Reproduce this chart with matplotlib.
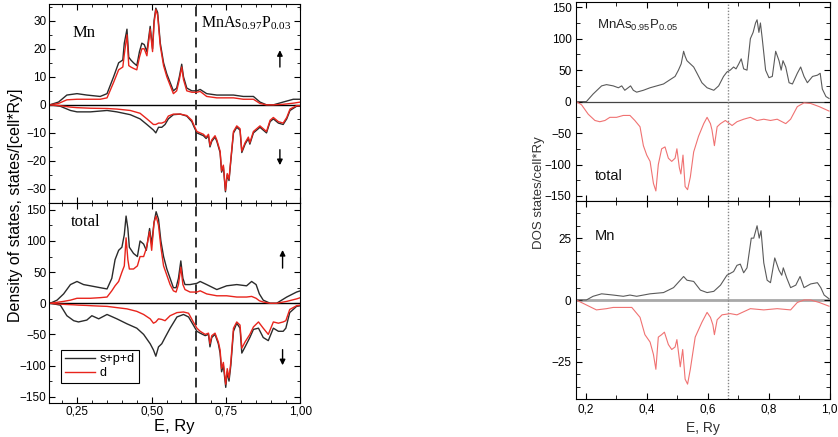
import numpy as np
import matplotlib
matplotlib.use('Agg')
import matplotlib.pyplot as plt
from matplotlib.ticker import MultipleLocator

plt.rcParams['font.family'] = ['Liberation Sans', 'DejaVu Sans']

# ---------------- left panel: MnAs0.97P0.03 ----------------
# Mn, spin up
mn_up_e = [0.157, 0.187, 0.215, 0.249, 0.282, 0.327, 0.35, 0.372, 0.389, 0.403, 0.408, 0.417, 0.423, 0.43,
           0.439, 0.45, 0.459, 0.467, 0.475, 0.484, 0.495, 0.503, 0.508, 0.514, 0.52, 0.529, 0.54, 0.551,
           0.562, 0.573, 0.584, 0.593, 0.601, 0.607, 0.618, 0.635, 0.652, 0.663, 0.685, 0.719, 0.752, 0.775,
           0.808, 0.842, 0.864, 0.886, 0.909, 0.942, 0.976, 1.0]
mn_up_spd = [0, 1, 3.5, 4, 3.5, 3, 4, 10, 15, 16, 22, 27, 17, 16,
             15, 14, 19, 22, 21.5, 19, 28, 20, 30, 34.5, 33, 22, 15, 11,
             8, 5, 6, 10, 14.5, 10, 6, 5, 5, 5.5, 4, 3.5, 3.5, 3.5,
             3, 3, 1, 0, 0, 1, 2, 2]
mn_up_d = [0, 0.5, 1.8, 2, 2, 2, 2.5, 8, 12.5, 13.5, 18, 25, 14, 13.5,
           13, 12.5, 17, 20, 20, 17.5, 27, 19, 29, 34, 32, 21, 14, 10,
           7, 4, 5, 9, 13.5, 9, 5, 4.5, 4.5, 4.8, 3, 2.5, 2.5, 2.5,
           2, 2, 0.5, 0, 0, 0.2, 0.6, 1]

# Mn, spin down
mn_dn_e = [0.159, 0.193, 0.227, 0.249, 0.294, 0.35, 0.383, 0.428, 0.461, 0.484, 0.506, 0.514, 0.523, 0.534,
           0.545, 0.556, 0.573, 0.596, 0.618, 0.635, 0.643, 0.652, 0.663, 0.674, 0.683, 0.691, 0.696, 0.702,
           0.713, 0.719, 0.73, 0.735, 0.741, 0.748, 0.754, 0.76, 0.766, 0.775, 0.786, 0.797, 0.803, 0.814,
           0.825, 0.83, 0.842, 0.853, 0.864, 0.875, 0.886, 0.898, 0.909, 0.926, 0.942, 0.954, 0.965, 0.987, 1.0]
mn_dn_spd = [0, -0.5, -2, -2.5, -2.5, -2, -2.5, -3.5, -5, -7, -9, -10, -8, -8,
             -7, -5, -3.5, -3.3, -4, -6, -8, -10, -10.5, -11, -12, -11, -15, -13,
             -11.5, -13, -17, -24, -22, -31, -25, -27, -20, -10, -8, -9, -17, -14,
             -12, -14, -10, -9, -8, -9, -10, -6, -5, -6.5, -7, -5, -2, -0.5, -0.5]
mn_dn_d = [0, -0.3, -0.8, -1, -1.2, -1.3, -1.5, -2, -3, -5, -7, -7, -6.5, -6.5,
           -6, -4, -3.3, -3.3, -3.8, -5.5, -7.5, -9.5, -10, -10.5, -11.5, -10.5, -14.5, -12.5,
           -11, -12.5, -16.5, -23.5, -21.5, -30.5, -24.5, -26.5, -19.5, -9.5, -7.5, -8.5, -16.5, -13.5,
           -11.5, -13.5, -9.5, -8.5, -7.5, -8.5, -9.5, -5.5, -4.5, -6, -6.5, -4.5, -1.5, -0.3, -0.3]

# total, spin up
tot_up_e = [0.159, 0.182, 0.204, 0.227, 0.249, 0.271, 0.294, 0.327, 0.35, 0.366, 0.377, 0.389, 0.4, 0.408,
            0.414, 0.42, 0.425, 0.439, 0.452, 0.461, 0.473, 0.482, 0.493, 0.5, 0.508, 0.515, 0.523, 0.531,
            0.54, 0.551, 0.562, 0.573, 0.582, 0.59, 0.598, 0.605, 0.612, 0.629, 0.652, 0.663, 0.685, 0.719,
            0.752, 0.786, 0.819, 0.836, 0.851, 0.862, 0.875, 0.898, 0.92, 0.954, 0.987, 1.0]
tot_up_spd = [0, 5, 15, 30, 35, 30, 28, 25, 23, 40, 70, 85, 90, 110,
              140, 120, 90, 80, 75, 100, 95, 85, 120, 95, 130, 147, 135, 100,
              75, 55, 40, 25, 25, 40, 68, 40, 30, 30, 32, 35, 30, 22,
              28, 30, 28, 35, 30, 15, 5, 0, 0, 10, 18, 20]
tot_up_d = [0, 1.5, 3, 5, 8, 8, 8, 9, 10, 20, 28, 35, 50, 60,
            105, 70, 55, 55, 60, 75, 75, 88, 115, 85, 130, 140, 125, 90,
            60, 45, 30, 20, 18, 30, 58, 30, 22, 18, 18, 20, 15, 12,
            12, 10, 10, 11, 8, 4, 2, 0, 0, 3, 7, 9]

# total, spin down
tot_dn_e = [0.159, 0.193, 0.215, 0.238, 0.254, 0.282, 0.299, 0.322, 0.35, 0.383, 0.417, 0.45, 0.473, 0.495,
            0.506, 0.514, 0.523, 0.534, 0.545, 0.562, 0.585, 0.607, 0.624, 0.64, 0.652, 0.663, 0.68, 0.691,
            0.696, 0.702, 0.713, 0.724, 0.73, 0.735, 0.741, 0.749, 0.754, 0.76, 0.766, 0.775, 0.786, 0.797,
            0.803, 0.814, 0.83, 0.842, 0.859, 0.875, 0.892, 0.909, 0.926, 0.942, 0.951, 0.964, 0.987, 1.0]
tot_dn_spd = [0, -3, -20, -28, -30, -27, -20, -25, -18, -25, -33, -40, -50, -65,
              -75, -85, -70, -65, -55, -40, -22, -18, -22, -35, -45, -48, -52, -50,
              -70, -55, -50, -65, -80, -110, -100, -135, -110, -125, -100, -45, -32, -40,
              -80, -70, -55, -42, -40, -55, -60, -40, -45, -45, -40, -15, -5, -4]
tot_dn_d = [0, -1.5, -2, -2.5, -3, -3.5, -4, -4.5, -5, -7, -9, -13, -18, -25,
            -32, -30, -25, -26, -28, -20, -15, -14, -16, -30, -40, -45, -50, -48,
            -65, -52, -48, -62, -75, -105, -95, -130, -105, -120, -95, -40, -30, -35,
            -72, -62, -50, -38, -30, -40, -50, -30, -32, -30, -28, -10, -4, -3]

# ---------------- right panel: MnAs0.95P0.05 ----------------
r_tot_up_e = [0.169, 0.202, 0.224, 0.252, 0.268, 0.29, 0.307, 0.318, 0.328, 0.339, 0.347, 0.356, 0.367, 0.389,
              0.411, 0.433, 0.455, 0.477, 0.493, 0.504, 0.513, 0.521, 0.526, 0.532, 0.543, 0.554, 0.565, 0.581,
              0.598, 0.62, 0.636, 0.652, 0.663, 0.674, 0.685, 0.693, 0.702, 0.71, 0.718, 0.729, 0.74, 0.749,
              0.757, 0.762, 0.768, 0.773, 0.779, 0.79, 0.801, 0.812, 0.823, 0.834, 0.841, 0.847, 0.856, 0.867,
              0.878, 0.894, 0.905, 0.916, 0.927, 0.944, 0.96, 0.969, 0.976, 0.988, 0.998]
r_tot_up = [0, 0, 12, 25, 27, 25, 22, 25, 18, 22, 25, 18, 15, 18,
            22, 25, 28, 35, 40, 50, 60, 80, 72, 65, 60, 55, 45, 30,
            22, 18, 25, 40, 47, 50, 55, 52, 60, 68, 52, 50, 100, 110,
            125, 130, 110, 125, 100, 50, 38, 40, 80, 65, 50, 65, 55, 30,
            28, 45, 55, 40, 30, 40, 42, 45, 20, 8, 5]

r_tot_dn_e = [0.169, 0.186, 0.208, 0.23, 0.246, 0.263, 0.279, 0.301, 0.323, 0.345, 0.361, 0.378, 0.389, 0.4,
              0.411, 0.422, 0.43, 0.438, 0.449, 0.46, 0.471, 0.482, 0.493, 0.499, 0.507, 0.512, 0.519, 0.526,
              0.534, 0.543, 0.554, 0.57, 0.587, 0.598, 0.609, 0.614, 0.622, 0.631, 0.642, 0.658, 0.68, 0.696,
              0.718, 0.74, 0.762, 0.784, 0.806, 0.828, 0.856, 0.872, 0.894, 0.916, 0.938, 0.966, 0.998]
r_tot_dn = [0, -5, -20, -30, -32, -30, -25, -25, -22, -22, -30, -40, -70, -85,
            -95, -130, -142, -100, -75, -72, -90, -95, -90, -75, -105, -115, -85, -135,
            -140, -120, -80, -55, -35, -25, -35, -45, -70, -40, -35, -30, -38, -32,
            -28, -25, -30, -28, -30, -28, -35, -28, -8, -2, -3, -8, -15]

r_mn_up_e = [0.169, 0.202, 0.224, 0.252, 0.29, 0.323, 0.345, 0.367, 0.411, 0.455, 0.488, 0.51, 0.521, 0.532,
             0.554, 0.576, 0.598, 0.62, 0.642, 0.663, 0.685, 0.696, 0.707, 0.718, 0.729, 0.743, 0.751, 0.762,
             0.769, 0.775, 0.784, 0.795, 0.806, 0.82, 0.834, 0.843, 0.848, 0.859, 0.872, 0.889, 0.903, 0.916,
             0.938, 0.96, 0.971, 0.982, 0.998]
r_mn_up = [0, 0, 1.5, 2.5, 2, 1.5, 2, 1.5, 2.5, 3, 5, 8, 9.5, 8,
           7.5, 4, 3, 3.5, 6, 10, 11.5, 14, 14.5, 11, 13, 25, 25, 30,
           25, 28, 15, 8, 7, 17, 12, 10, 13, 9, 5, 6, 9.5, 5,
           6.5, 7, 5, 2, 0.5]

r_mn_dn_e = [0.169, 0.202, 0.235, 0.268, 0.29, 0.323, 0.351, 0.378, 0.394, 0.411, 0.422, 0.43, 0.438, 0.449,
             0.458, 0.471, 0.482, 0.493, 0.499, 0.51, 0.518, 0.526, 0.534, 0.543, 0.559, 0.581, 0.598, 0.609,
             0.617, 0.622, 0.631, 0.647, 0.674, 0.696, 0.74, 0.784, 0.828, 0.872, 0.894, 0.916, 0.938, 0.966,
             0.998]
r_mn_dn = [0, -2, -4, -3.5, -3, -3, -3, -7, -14, -17, -22, -28, -15, -14,
           -13, -18, -20, -19, -16, -27, -20, -32, -34, -28, -15, -9, -5, -7,
           -10, -14, -8, -6, -5.5, -6, -3.5, -4, -3.5, -4, -1, 0, 0, -1,
           -2.5]

left_xticks = [0.25, 0.5, 0.75, 1.0]
left_xlabels = ['0,25', '0,50', '0,75', '1,00']
right_xticks = [0.2, 0.4, 0.6, 0.8, 1.0]
right_xlabels = ['0,2', '0,4', '0,6', '0,8', '1,0']
e_fermi_left = 0.65
e_fermi_right = 0.666

blk = '#2b2b2b'
red = '#e8241c'

fig = plt.figure(figsize=(8.38, 4.37), dpi=100)

ax1 = fig.add_axes([0.0585, 0.5355, 0.3, 0.4555])
ax2 = fig.add_axes([0.0585, 0.078, 0.3, 0.4575])

for ax in (ax1, ax2):
    ax.axhline(0, color='black', lw=1.0, zorder=1)
    ax.axvline(e_fermi_left, color='#333333', lw=1.4, ls=(0, (5, 3)))
    ax.set_xlim(0.155, 1.0)
    ax.xaxis.set_minor_locator(MultipleLocator(0.05))
    ax.tick_params(which='both', direction='in', top=True, right=True, labelsize=8.5)
    ax.tick_params(which='major', length=4, pad=2)
    ax.tick_params(which='minor', length=2)
    ax.set_xticks(left_xticks)

ax1.plot(mn_up_e, mn_up_spd, color=blk, lw=1.0)
ax1.plot(mn_up_e, mn_up_d, color=red, lw=1.0)
ax1.plot(mn_dn_e, mn_dn_spd, color=blk, lw=1.0)
ax1.plot(mn_dn_e, mn_dn_d, color=red, lw=1.0)
ax1.set_ylim(-35, 36)
ax1.set_yticks([-30, -20, -10, 0, 10, 20, 30])
ax1.yaxis.set_minor_locator(MultipleLocator(5))
ax1.set_xticklabels([])
ax1.text(0.273, 25.7, 'Mn', family='Liberation Serif', fontsize=12, ha='center', va='center')
ax1.text(0.667, 29.3, r'MnAs$_\mathregular{0.97}$P$_\mathregular{0.03}$', family='Liberation Serif',
         fontsize=11.5, ha='left', va='center')
ax1.annotate('', xy=(0.931, 20.5), xytext=(0.931, 12.5),
             arrowprops=dict(arrowstyle='-|>', color='black', lw=1, mutation_scale=8))
ax1.annotate('', xy=(0.931, -22.5), xytext=(0.931, -15),
             arrowprops=dict(arrowstyle='-|>', color='black', lw=1, mutation_scale=8))

ax2.plot(tot_up_e, tot_up_spd, color=blk, lw=1.0, label='s+p+d')
ax2.plot(tot_up_e, tot_up_d, color=red, lw=1.0, label='d')
ax2.plot(tot_dn_e, tot_dn_spd, color=blk, lw=1.0)
ax2.plot(tot_dn_e, tot_dn_d, color=red, lw=1.0)
ax2.set_ylim(-160, 161)
ax2.set_yticks([-150, -100, -50, 0, 50, 100, 150])
ax2.yaxis.set_minor_locator(MultipleLocator(25))
ax2.set_xticklabels(left_xlabels)
ax2.set_xlabel('E, Ry', fontsize=12, labelpad=1)
ax2.text(0.277, 131, 'total', family='Liberation Serif', fontsize=12, ha='center', va='center')
ax2.annotate('', xy=(0.94, 90), xytext=(0.94, 52),
             arrowprops=dict(arrowstyle='-|>', color='black', lw=1, mutation_scale=8))
ax2.annotate('', xy=(0.94, -104), xytext=(0.94, -70),
             arrowprops=dict(arrowstyle='-|>', color='black', lw=1, mutation_scale=8))
leg = ax2.legend(loc='lower left', bbox_to_anchor=(0.048, 0.1), borderaxespad=0, fontsize=9,
                 handlelength=2.4, handletextpad=0.4, fancybox=False, framealpha=1,
                 borderpad=0.3, labelspacing=0.15)
leg.get_frame().set_edgecolor('black')
leg.get_frame().set_linewidth(0.8)

fig.text(0.018, 0.53, 'Density of states, states/[cell*Ry]', rotation=90, fontsize=11.5,
         ha='center', va='center')

# right panel
gry = '#5a5a5a'
pnk = '#f07272'
ax3 = fig.add_axes([0.687, 0.54, 0.303, 0.455])
ax4 = fig.add_axes([0.687, 0.087, 0.303, 0.453])

for ax in (ax3, ax4):
    ax.axvline(e_fermi_right, color='#888888', lw=1.0, ls=(0, (1, 1.2)))
    ax.set_xlim(0.167, 1.0)
    ax.xaxis.set_minor_locator(MultipleLocator(0.1))
    ax.tick_params(which='both', direction='in', top=True, right=True, labelsize=8.5)
    ax.tick_params(which='major', length=4, pad=3)
    ax.tick_params(which='minor', length=3)
    ax.set_xticks(right_xticks)

ax3.axhline(0, color='#444444', lw=0.9, zorder=1)
ax3.plot(r_tot_up_e, r_tot_up, color=gry, lw=0.8)
ax3.plot(r_tot_dn_e, r_tot_dn, color=pnk, lw=0.8)
ax3.set_ylim(-158, 158)
ax3.set_yticks([-150, -100, -50, 0, 50, 100, 150])
ax3.yaxis.set_minor_locator(MultipleLocator(25))
ax3.set_xticklabels([])
ax3.text(0.236, 121, r'MnAs$_\mathregular{0.95}$P$_\mathregular{0.05}$', fontsize=9.5, color='#222222',
         ha='left', va='center')
ax3.text(0.23, -118, 'total', fontsize=10.5, color='#111111', ha='left', va='center')

ax4.axhline(0, color='#a8a8a8', lw=2.0, zorder=1)
ax4.plot(r_mn_up_e, r_mn_up, color=gry, lw=0.8)
ax4.plot(r_mn_dn_e, r_mn_dn, color=pnk, lw=0.8)
ax4.set_ylim(-40, 40)
ax4.set_yticks([-25, 0, 25])
ax4.yaxis.set_minor_locator(MultipleLocator(5))
ax4.set_xticklabels(right_xlabels)
ax4.set_xlabel('E, Ry', fontsize=10, color='#333333')
ax4.text(0.23, 26, 'Mn', fontsize=10.5, color='#111111', ha='left', va='center')

fig.text(0.643, 0.56, 'DOS states/cell*Ry', rotation=90, fontsize=9.5, color='#333333',
         ha='center', va='center')

plt.savefig('out.png', dpi=100)
